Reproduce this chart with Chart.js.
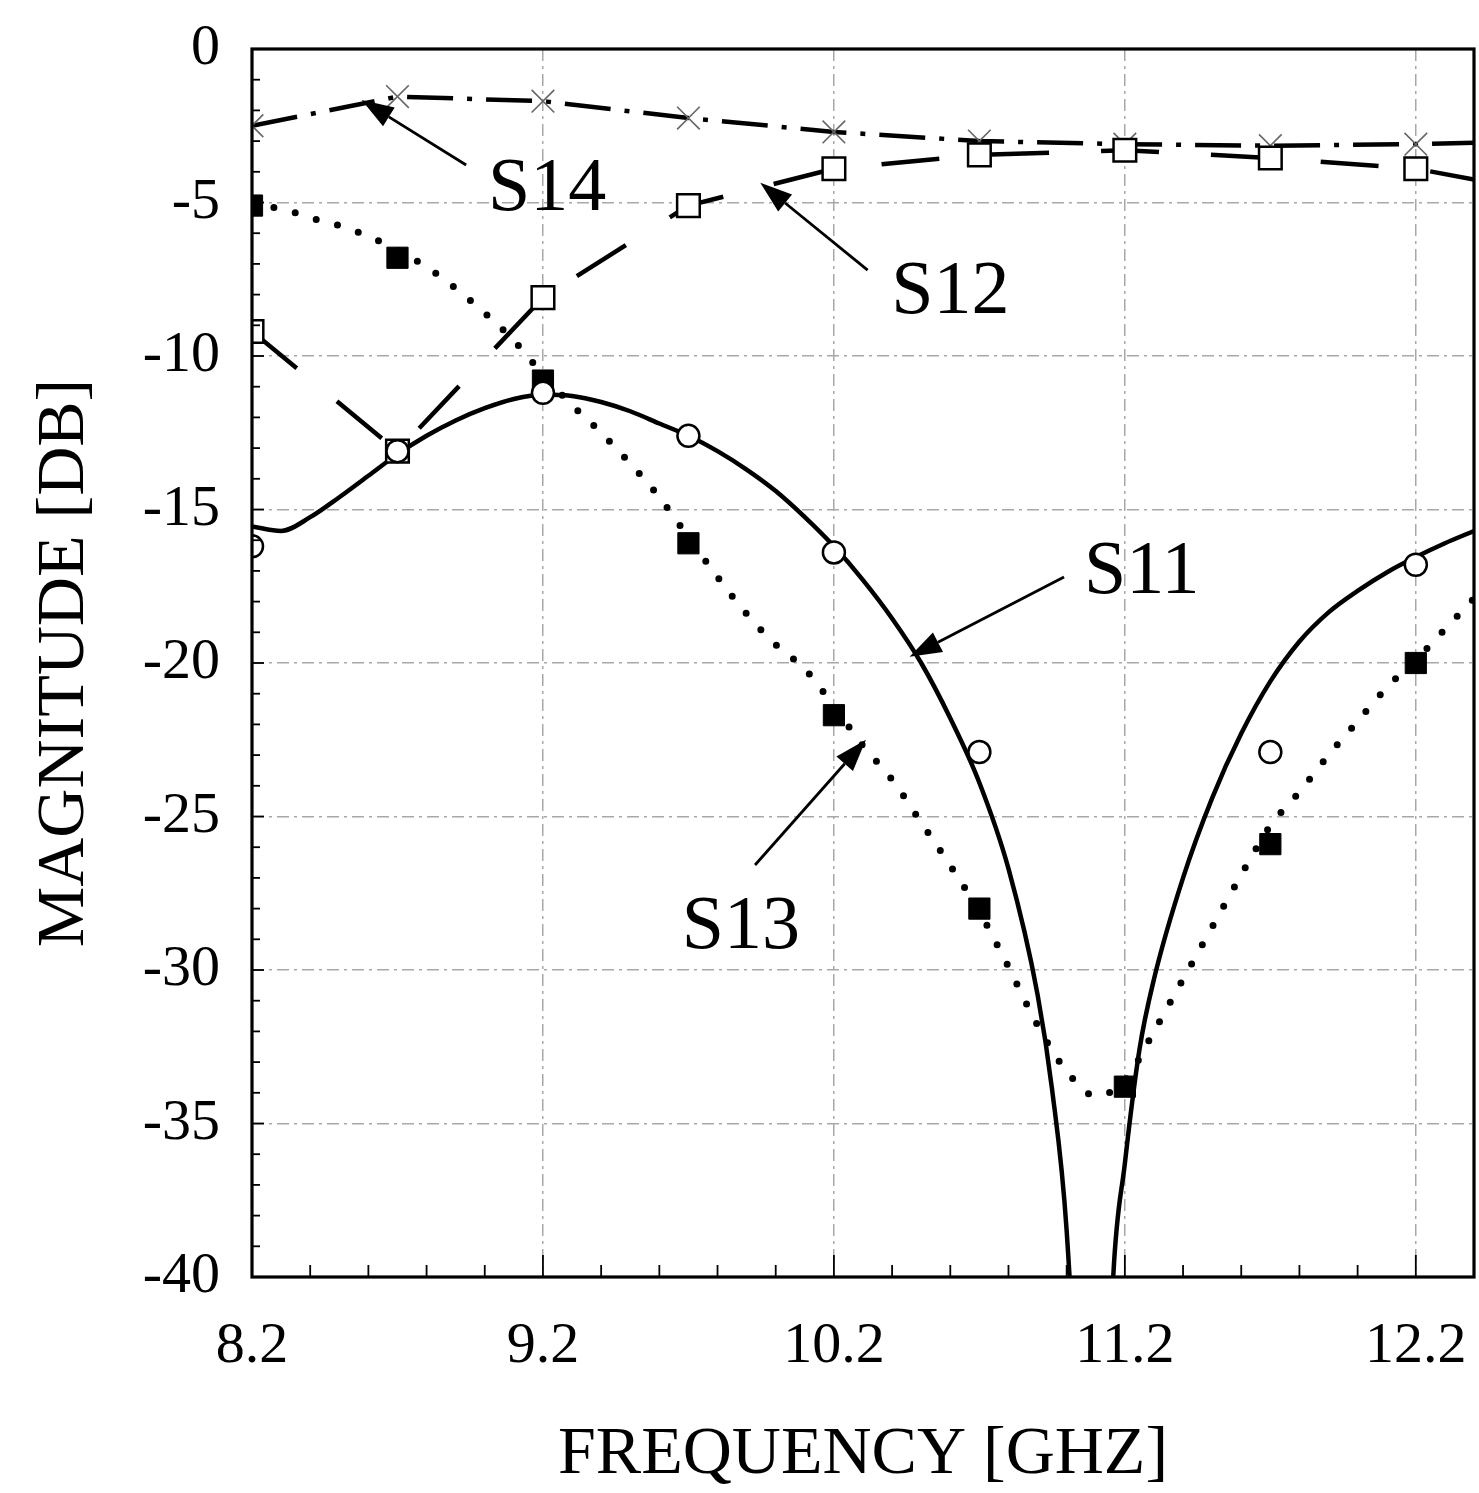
<!DOCTYPE html>
<html>
<head>
<meta charset="utf-8">
<script src="https://cdn.jsdelivr.net/npm/chart.js@4.4.0/dist/chart.umd.min.js"></script>
<style>
  html, body { margin: 0; padding: 0; background: #fff; overflow: hidden; }
  canvas { display: block; }
</style>
</head>
<body>
<canvas id="sparams" width="1479" height="1493"></canvas>
<script>
// measured points every 0.5 GHz (last entry only continues the line to the frame)
const freqPts = [8.2, 8.7, 9.2, 9.7, 10.2, 10.7, 11.2, 11.7, 12.2, 12.4];
const s12 = [-9.2, -13.1, -8.1, -5.1, -3.9, -3.45, -3.3, -3.55, -3.9, -4.25];
const s14 = [-2.5, -1.55, -1.7, -2.25, -2.7, -3.0, -3.1, -3.15, -3.1, -3.05];
const s11Meas = [-16.2, -13.1, -11.2, -12.6, -16.4, -22.9, null, -22.9, -16.8];
const s13Meas = [-5.1, -6.8, -10.8, -16.1, -21.7, -28.0, -33.8, -25.9, -20.0];

// S11 solid curve
const s11Freq = [8.2, 8.3, 8.4, 8.5, 8.6, 8.7, 8.8, 8.9, 9.0, 9.1, 9.2, 9.3, 9.4, 9.5, 9.6, 9.7, 9.8, 9.9,
  10.0, 10.1, 10.2, 10.3, 10.4, 10.5, 10.6, 10.7, 10.8, 10.9, 10.95, 11.0, 11.05, 11.09, 11.13, 11.16,
  11.2, 11.25, 11.3, 11.4, 11.5, 11.6, 11.7, 11.8, 11.9, 12.0, 12.1, 12.2, 12.3, 12.4];
const s11Curve = [-15.55, -15.7, -15.25, -14.6, -13.9, -13.2, -12.6, -12.1, -11.7, -11.4, -11.25, -11.3, -11.5, -11.8, -12.2, -12.6, -13.1, -13.7,
  -14.4, -15.25, -16.2, -17.3, -18.55, -20.0, -21.8, -23.9, -26.7, -30.8, -33.9, -38.5, -48, -60, -48, -40,
  -36.3, -32.6, -30.3, -27.0, -24.4, -22.3, -20.6, -19.3, -18.35, -17.65, -17.05, -16.55, -16.1, -15.7];

// S13 dotted curve
const s13Freq = [8.2, 8.3, 8.4, 8.5, 8.6, 8.7, 8.8, 8.9, 9.0, 9.1, 9.2, 9.3, 9.4, 9.5, 9.6, 9.7, 9.8, 9.9,
  10.0, 10.1, 10.2, 10.3, 10.4, 10.5, 10.6, 10.7, 10.8, 10.9, 11.0, 11.1, 11.2, 11.3, 11.4, 11.5, 11.6,
  11.7, 11.8, 11.9, 12.0, 12.1, 12.2, 12.3, 12.4];
const s13Curve = [-5.1, -5.2, -5.5, -5.75, -6.1, -6.55, -7.1, -7.8, -8.6, -9.5, -10.6, -11.6, -12.5, -13.5, -14.6, -15.9, -17.2, -18.4,
  -19.4, -20.2, -21.4, -22.7, -23.8, -25.2, -26.6, -28.1, -29.9, -31.8, -33.3, -34.1, -33.6, -32.0, -30.3, -28.6, -26.9,
  -25.3, -24.2, -23.0, -21.9, -20.8, -19.9, -18.9, -17.9];

const xTickValues = [8.2, 9.2, 10.2, 11.2, 12.2];

// callouts: label centre, arrow tail and arrow tip in data units
const callouts = [
  { text: 'S14', label: [9.214, -4.59], tail: [8.936, -3.78], tip: [8.577, -1.66] },
  { text: 'S12', label: [10.60, -7.95], tail: [10.316, -7.2], tip: [9.947, -4.36] },
  { text: 'S11', label: [11.258, -17.07], tail: [10.991, -17.2], tip: [10.46, -19.8] },
  { text: 'S13', label: [9.88, -28.63], tail: [9.929, -26.58], tip: [10.31, -22.5] }
];

const SERIF = '"Liberation Serif", "Times New Roman", serif';
const pts = (xs, ys) => xs.map((x, i) => ({ x: x, y: ys[i] }));
const onlyMarked = r => ctx => ctx.dataIndex < 9 ? r : 0;
const noPad = s => { s.paddingLeft = 0; s.paddingRight = 0; s.paddingTop = 0; s.paddingBottom = 0; };

const framePlugin = {
  id: 'frame',
  afterDatasetsDraw(chart) {
    const { ctx, chartArea: a, scales: { x, y } } = chart;
    ctx.save();
    ctx.strokeStyle = '#000';
    ctx.lineWidth = 1.8;
    // inward minor ticks
    for (let v = -40; v <= 0; v++) {
      const py = y.getPixelForValue(v);
      const len = v % 5 === 0 ? 12 : 8;
      ctx.beginPath(); ctx.moveTo(a.left, py); ctx.lineTo(a.left + len, py); ctx.stroke();
    }
    for (let i = 0; i <= 21; i++) {
      const px = x.getPixelForValue(8.2 + i * 0.2);
      const len = i % 5 === 0 ? 22 : 12;
      ctx.beginPath(); ctx.moveTo(px, a.bottom); ctx.lineTo(px, a.bottom - len); ctx.stroke();
    }
    ctx.lineWidth = 3.2;
    ctx.strokeRect(a.left, a.top, a.right - a.left, a.bottom - a.top);

    // arrows + labels
    ctx.fillStyle = '#000';
    ctx.lineWidth = 2.8;
    callouts.forEach(c => {
      const tx = x.getPixelForValue(c.tail[0]), ty = y.getPixelForValue(c.tail[1]);
      const hx = x.getPixelForValue(c.tip[0]), hy = y.getPixelForValue(c.tip[1]);
      const ang = Math.atan2(hy - ty, hx - tx);
      const hl = 32, hw = 11;
      const bx = hx - hl * Math.cos(ang), by = hy - hl * Math.sin(ang);
      ctx.beginPath(); ctx.moveTo(tx, ty); ctx.lineTo(bx, by); ctx.stroke();
      ctx.beginPath();
      ctx.moveTo(hx, hy);
      ctx.lineTo(bx + hw * Math.sin(ang), by - hw * Math.cos(ang));
      ctx.lineTo(bx - hw * Math.sin(ang), by + hw * Math.cos(ang));
      ctx.closePath(); ctx.fill();
      ctx.font = '76px ' + SERIF;
      ctx.textAlign = 'center';
      ctx.textBaseline = 'middle';
      ctx.fillText(c.text, x.getPixelForValue(c.label[0]), y.getPixelForValue(c.label[1]));
    });
    ctx.restore();
  }
};

new Chart(document.getElementById('sparams'), {
  type: 'line',
  data: {
    datasets: [
      {
        label: 'S11 meas', data: pts(freqPts, s11Meas), showLine: false, order: 0,
        pointStyle: 'circle', pointRadius: 11, pointBorderWidth: 2.5,
        pointBorderColor: '#000', pointBackgroundColor: '#fff'
      },
      {
        label: 'S13 meas', data: pts(freqPts, s13Meas), showLine: false, order: 0,
        pointStyle: 'rect', pointRadius: 15, pointBorderWidth: 1,
        pointBorderColor: '#000', pointBackgroundColor: '#000'
      },
      {
        label: 'S12', data: pts(freqPts, s12), order: 1, tension: 0,
        borderColor: '#000', borderWidth: 4.5, borderDash: [58, 52],
        pointStyle: 'rect', pointRadius: onlyMarked(16), pointBorderWidth: 2.5,
        pointBorderColor: '#000', pointBackgroundColor: '#fff'
      },
      {
        label: 'S14', data: pts(freqPts, s14), order: 2, tension: 0,
        borderColor: '#000', borderWidth: 4.5, borderDash: [46, 14, 5, 14],
        pointStyle: 'crossRot', pointRadius: onlyMarked(16), pointBorderWidth: 1.6,
        pointBorderColor: '#666', pointBackgroundColor: '#666'
      },
      {
        label: 'S11', data: pts(s11Freq, s11Curve), order: 3,
        cubicInterpolationMode: 'monotone', borderColor: '#000', borderWidth: 4.5,
        pointRadius: 0
      },
      {
        label: 'S13', data: pts(s13Freq, s13Curve), order: 3,
        cubicInterpolationMode: 'monotone', borderColor: '#000', borderWidth: 7,
        borderDash: [0, 22], borderCapStyle: 'round', pointRadius: 0
      }
    ]
  },
  options: {
    responsive: false,
    animation: false,
    devicePixelRatio: 1,
    layout: { autoPadding: false, padding: { top: 49, right: 5, left: 0, bottom: 0 } },
    plugins: { legend: { display: false }, tooltip: { enabled: false } },
    scales: {
      x: {
        type: 'linear', min: 8.2, max: 12.4,
        afterBuildTicks: s => { s.ticks = xTickValues.map(v => ({ value: v })); },
        afterFit: s => { s.height = 216; noPad(s); },
        ticks: {
          autoSkip: false, maxRotation: 0, padding: 41, color: '#000',
          font: { family: SERIF, size: 58, lineHeight: 1 },
          callback: v => v.toFixed(1)
        },
        grid: { color: '#a8a8a8', lineWidth: 1.5, drawTicks: false },
        border: { display: false, dash: [12, 5, 3, 5] },
        title: {
          display: true, text: 'FREQUENCY [GHZ]', color: '#000',
          font: { family: SERIF, size: 68, lineHeight: 1 }, padding: { top: 0, bottom: 4 }
        }
      },
      y: {
        type: 'linear', min: -40, max: 0,
        afterFit: s => { s.width = 252; noPad(s); },
        ticks: {
          stepSize: 5, padding: 32, color: '#000',
          font: { family: SERIF, size: 58, lineHeight: 1 },
          callback: v => String(v)
        },
        grid: { color: '#a8a8a8', lineWidth: 1.5, drawTicks: false },
        border: { display: false, dash: [12, 5, 3, 5] },
        title: {
          display: true, text: 'MAGNITUDE [DB]', color: '#000',
          font: { family: SERIF, size: 68, lineHeight: 1 }, padding: { top: 31, bottom: 0 }
        }
      }
    }
  },
  plugins: [framePlugin]
});
</script>
</body>
</html>
